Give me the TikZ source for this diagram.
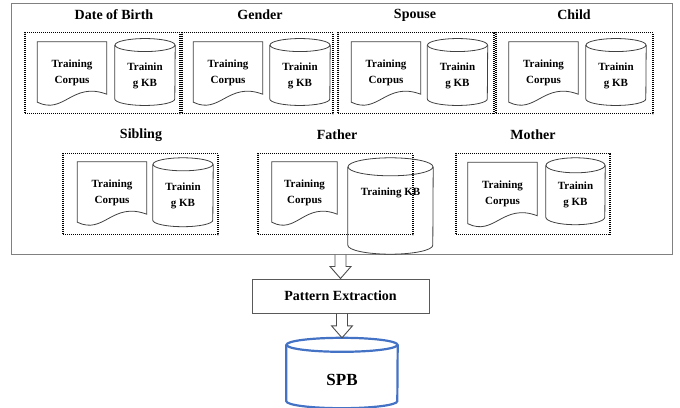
\documentclass[tikz,border=0pt]{standalone}
\usepackage{fontspec}
\setmainfont{Liberation Serif}
\usetikzlibrary{calc}
\newcommand\docpath[1]{%
  \draw[shapeline] (#1.north west) -- (#1.north east) -- ($(#1.south east)+(0,-9)$)
    .. controls ($(#1.south)+(0,-22)$) and ($(#1.south)+(-8,12)$) .. ($(#1.south west)+(0,-1)$) -- cycle;}
\newcommand\cylpath[4][]{%
  \draw[shapeline,#1] (#2.north west) -- (#2.south west)
    arc[start angle=180, end angle=360, x radius=#3, y radius=#4] -- (#2.north east);
  \draw[shapeline,#1] (#2.north) ellipse[x radius=#3, y radius=#4];}
\newcommand\hollowarrow[2]{%
  \draw[arrowline] let \p1=(#1), \p2=(#2) in
    (\x2-5.5pt,\y1) -- (\x2-5.5pt,\y2+12pt) -- (\x2-10.5pt,\y2+12pt) -- (\x2,\y2)
    -- (\x2+10.5pt,\y2+12pt) -- (\x2+5.5pt,\y2+12pt) -- (\x2+5.5pt,\y1);}
\newcommand\lowr{\rule{0pt}{15pt}}
\begin{document}
\begin{tikzpicture}[x=1pt,y=-1pt,
  shapeline/.style={draw=black!75, line width=0.8pt},
  arrowline/.style={draw=black!70, line width=0.9pt},
  grp/.style={draw=black, dash pattern=on 1pt off 1pt, line width=1.2pt, minimum height=81pt, inner sep=0pt},
  ttl/.style={font=\fontsize{14}{16}\selectfont\bfseries, inner sep=0pt},
  doctext/.style={align=center, font=\fontsize{11}{16}\selectfont\bfseries, inner sep=0pt, minimum width=69pt, minimum height=61pt},
  cyltext/.style={align=center, font=\fontsize{11}{16}\selectfont\bfseries, inner sep=0pt, minimum width=60pt, minimum height=53.5pt},
]
\useasboundingbox (0,0) rectangle (680,407);
\node[draw=black!50, line width=1pt, minimum width=661pt, minimum height=251pt, inner sep=0pt] (outer) at (341.5,128.5) {};

% row 1
\node[ttl] (t1) at (114,15) {Date of Birth};
\node[ttl] (t2) at (260,15) {Gender};
\node[ttl] (t3) at (415,15) {Spouse};
\node[ttl] (t4) at (574,15) {Child};
\node[grp, minimum width=155pt] (g1) at (102.5,73) {};
\node[grp, minimum width=151pt] (g2) at (257.5,73) {};
\node[grp, minimum width=156pt] (g3) at (416,73) {};
\node[grp, minimum width=157pt] (g4) at (574.5,73) {};
\node[doctext] (d1) at (72,72.5) {Training\\Corpus};
\node[doctext] (d2) at (228,72.5) {Training\\Corpus};
\node[doctext] (d3) at (386,72.5) {Training\\Corpus};
\node[doctext] (d4) at (543.5,72.5) {Training\\Corpus};
\node[cyltext] (c1) at (145,72) {\lowr Trainin\\g KB};
\node[cyltext] (c2) at (300,72) {\lowr Trainin\\g KB};
\node[cyltext] (c3) at (457.5,72) {\lowr Trainin\\g KB};
\node[cyltext] (c4) at (616,72) {\lowr Trainin\\g KB};

% row 2
\node[ttl] (t5) at (141,135) {Sibling};
\node[ttl] (t6) at (337,135) {Father};
\node[ttl] (t7) at (533,135) {Mother};
\node[grp, minimum width=155pt] (g5) at (140.5,194) {};
\node[grp, minimum width=155pt] (g6) at (335.5,194) {};
\node[grp, minimum width=154pt] (g7) at (533,194) {};
\node[doctext] (d5) at (112,192.5) {Training\\Corpus};
\node[doctext, minimum width=65pt] (d6) at (304.5,192.5) {Training\\Corpus};
\node[doctext, minimum height=62pt] (d7) at (502.5,193.5) {Training\\Corpus};
\node[cyltext, minimum height=55.5pt] (c5) at (183,192.25) {\lowr Trainin\\g KB};
\node[cyltext, minimum width=85pt, minimum height=78pt, text depth=28pt] (c6) at (390.5,206) {Training KB};
\node[cyltext, minimum width=59pt, minimum height=51.5pt] (c7) at (575.5,191.25) {\lowr Trainin\\g KB};

\foreach \n in {d1,d2,d3,d4,d5,d6,d7} {\docpath{\n}}
\foreach \n in {c1,c2,c3,c4,c5} {\cylpath{\n}{30pt}{6.5pt}}
\cylpath{c7}{29.5pt}{7.5pt}
\cylpath{c6}{42.5pt}{9pt}

% bottom
\node[draw=black!65, line width=1pt, minimum width=177pt, minimum height=34pt, inner sep=0pt,
  font=\fontsize{14}{16}\selectfont\bfseries] (pe) at (340.5,296) {Pattern Extraction};
\node[minimum width=111pt, minimum height=56pt, inner sep=0pt, text height=25pt,
  font=\fontsize{17}{20}\selectfont\bfseries] (spb) at (342,373) {SPB};
\cylpath[draw={rgb,255:red,68;green,114;blue,196}, line width=2.2pt]{spb}{55.5pt}{7pt}
\coordinate (spbtop) at ($(spb.north)+(0,-7)$);
\hollowarrow{outer.south}{pe.north}
\hollowarrow{pe.south}{spbtop}
\end{tikzpicture}
\end{document}
